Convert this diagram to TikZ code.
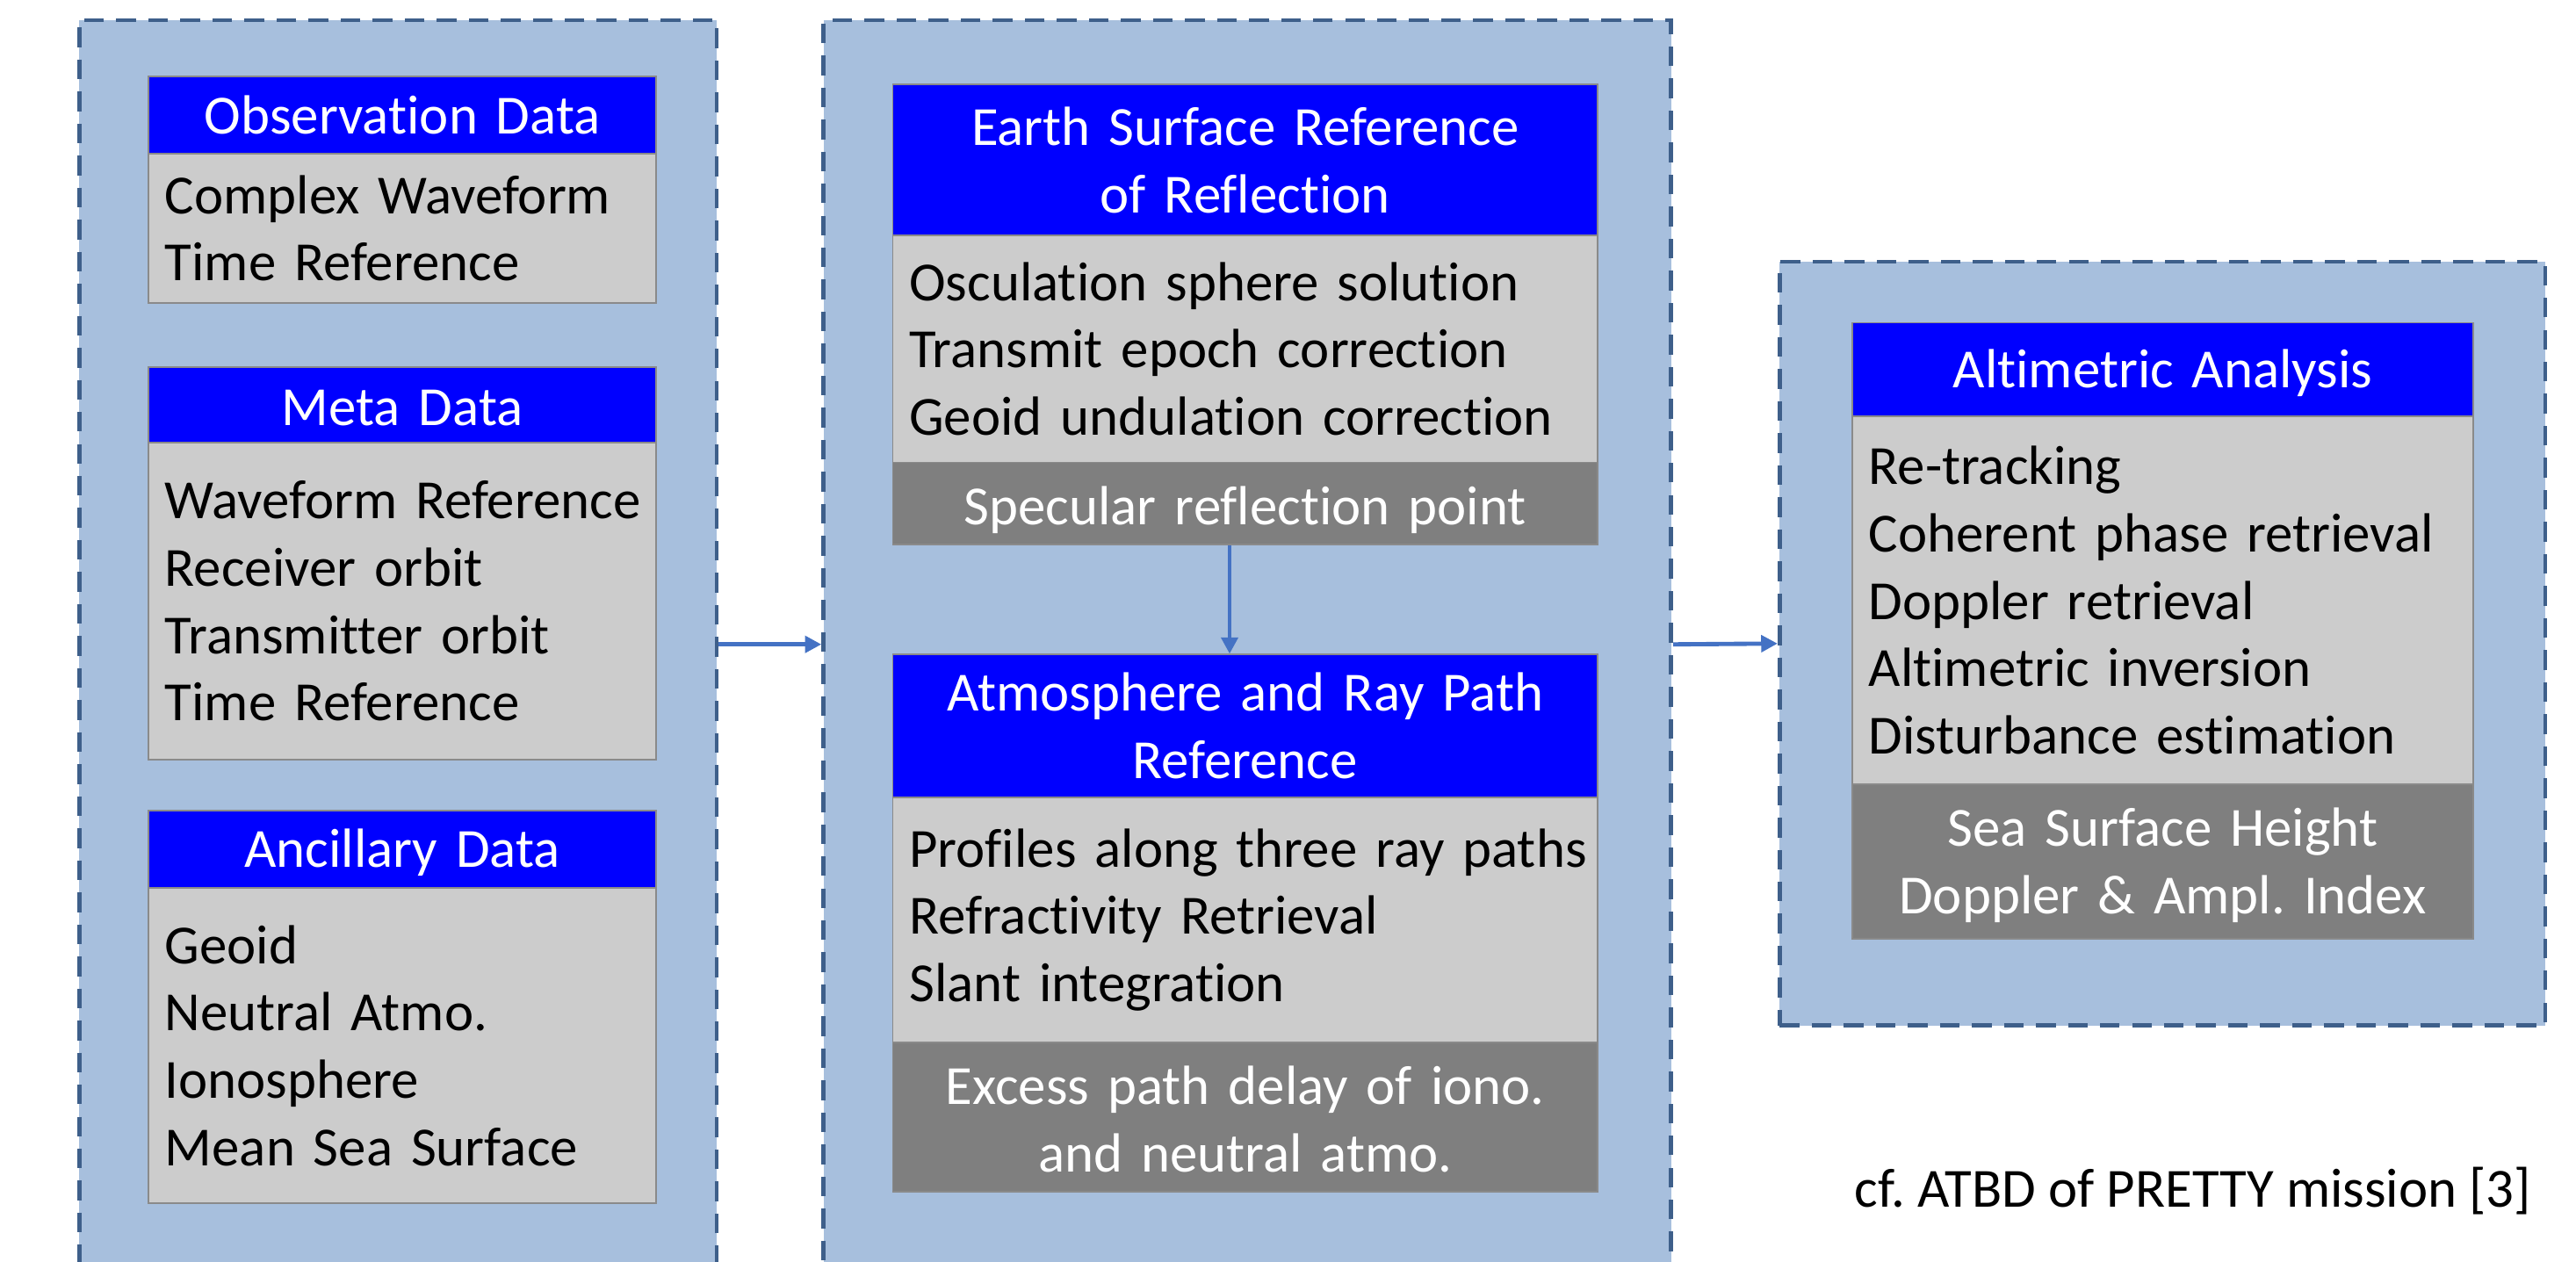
\documentclass[tikz,border=0pt]{standalone}
\usepackage{fontspec}
\setmainfont{Carlito}[Ligatures={NoCommon}]
\usetikzlibrary{arrows.meta}
\definecolor{contfill}{HTML}{A7BFDD}
\definecolor{contline}{HTML}{3E5F8A}
\definecolor{hdrblue}{HTML}{0000FF}
\definecolor{bodygray}{HTML}{CCCCCC}
\definecolor{ftrgray}{HTML}{7F7F7F}
\definecolor{boxline}{HTML}{8A8A8A}
\definecolor{arrowblue}{HTML}{4472C4}
\newcommand\diafs{\fontsize{33.6pt}{41pt}\selectfont\frenchspacing}
\newcommand\topst[1]{\rule{0pt}{#1}}
\newcommand\botst{\rule[-10pt]{0pt}{10pt}}
\tikzset{
  cont/.style={rectangle, fill=contfill, draw=contline, line width=2.5pt,
    dash pattern=on 12pt off 7.5pt, anchor=north west, inner sep=0pt},
  box/.style={rectangle, draw=boxline, line width=0.9pt, inner xsep=2pt,
    inner ysep=0pt, font=\diafs, anchor=north west},
  hdr/.style={box, fill=hdrblue, text=white, align=center},
  bdy/.style={box, fill=bodygray, text=black, align=left, inner xsep=10pt},
  ftr/.style={box, fill=ftrgray, text=white, align=center},
  arr/.style={draw=arrowblue, line width=2.6pt,
    -{Triangle[length=10pt,width=10pt]}},
}
\begin{document}
\begin{tikzpicture}[x=1pt,y=-1pt]
\useasboundingbox (0,0) rectangle (1568,768);
\fill[white] (0,0) rectangle (1568,768);
\clip (0,0) rectangle (1568,768);

% containers
\node[cont, minimum width=388pt, minimum height=760pt] (L) at (47,11) {};
\node[cont, minimum width=516pt, minimum height=760pt] (M) at (500,11) {};
\node[cont, minimum width=466pt, minimum height=465pt] (R) at (1082,158) {};

% left column
\node[hdr, text width=305pt, minimum height=47pt] (obsH) at (90,46) {\topst{32.7pt}\botst Observation Data};
\node[bdy, text width=289pt, minimum height=91pt] (obsB) at (90,93) {Complex Waveform\\Time Reference};

\node[hdr, text width=305pt, minimum height=46pt] (metaH) at (90,223) {\topst{35.6pt}\botst Meta Data};
\node[bdy, text width=289pt, minimum height=193pt] (metaB) at (90,269) {\mbox{Waveform Reference}\\Receiver orbit\\Transmitter orbit\\Time Reference};

\node[hdr, text width=305pt, minimum height=47pt] (ancH) at (90,493) {\topst{32.3pt}\botst Ancillary Data};
\node[bdy, text width=289pt, minimum height=192pt] (ancB) at (90,540) {Geoid\\Neutral Atmo.\\Ionosphere\\Mean Sea Surface};

% middle column
\node[hdr, text width=425pt, minimum height=92pt] (earthH) at (543,51) {Earth Surface Reference\\of Reflection};
\node[bdy, text width=409pt, minimum height=138pt] (earthB) at (543,143) {Osculation sphere solution\\Transmit epoch correction\\\mbox{Geoid undulation correction}};
\node[ftr, text width=425pt, minimum height=50pt] (earthF) at (543,281) {\topst{36.3pt}\botst Specular reflection point};

\node[hdr, text width=425pt, minimum height=87pt] (atmoH) at (543,398) {\topst{32.7pt}Atmosphere and Ray Path\\\botst Reference};
\node[bdy, text width=409pt, minimum height=149pt] (atmoB) at (543,485) {\mbox{Profiles along three ray paths}\\Refractivity Retrieval\\Slant integration};
\node[ftr, text width=425pt, minimum height=91pt] (atmoF) at (543,634) {\topst{35.7pt}Excess path delay of iono.\\\botst and neutral atmo.};

% right column
\node[hdr, text width=374pt, minimum height=57pt] (altH) at (1127,196) {\topst{32.3pt}\botst Altimetric Analysis};
\node[bdy, text width=358pt, minimum height=224pt] (altB) at (1127,253) {Re-tracking\\\mbox{Coherent phase retrieval}\\Doppler retrieval\\Altimetric inversion\\\mbox{Disturbance estimation}};
\node[ftr, text width=374pt, minimum height=94pt] (altF) at (1127,477) {\topst{32.3pt}Sea Surface Height\\\botst Doppler \& Ampl. Index};

% citation
\node[font=\diafs, anchor=east, inner sep=0pt] (cite) at (1541,725) {cf. ATBD of PRETTY mission [3]};

% connectors
\draw[arr] (L.east) -- (M.west);
\draw[arr] (M.east) -- (R.west);
\draw[arr] ([xshift=-9.5pt]earthF.south) -- ([xshift=-9.5pt]atmoH.north);
\end{tikzpicture}
\end{document}
